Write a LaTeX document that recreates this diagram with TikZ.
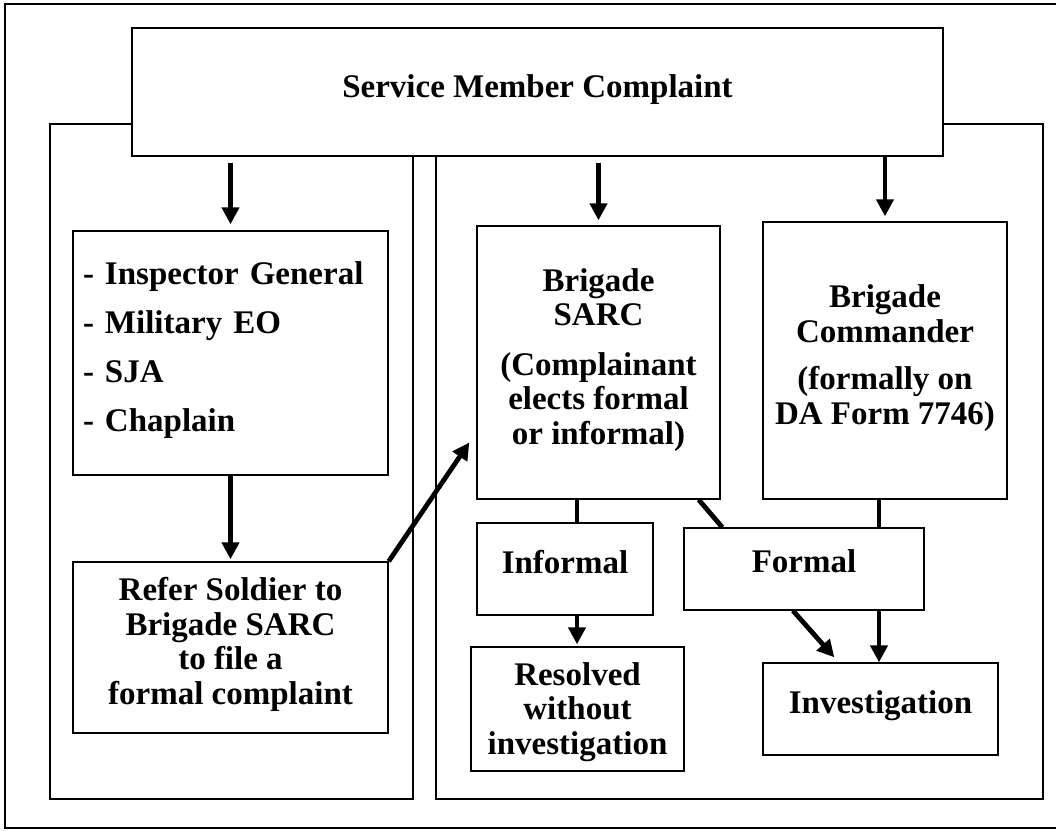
\documentclass[tikz,border=0pt]{standalone}
\usepackage{fontspec}
\setmainfont{Liberation Serif}
\usetikzlibrary{arrows.meta}
% invisible struts that deepen the last line or heighten the first one
\newcommand{\lowstrut}[1]{\rule[-#1]{0pt}{#1}}
\newcommand{\highstrut}[1]{\rule{0pt}{#1}}
\begin{document}
\begin{tikzpicture}[x=1pt,y=-1pt,
  box/.style={draw, line width=1.4pt, fill=white, align=center, inner sep=0pt,
    font=\bfseries\fontsize{33}{34.5}\selectfont},
  panel/.style={draw, line width=2.2pt},
  conn/.style={line width=4.8pt},
  arr/.style={conn, -{Triangle[width=17pt,length=17pt]}}
]
\useasboundingbox (0,0) rectangle (1056,830);
% outer frame
\draw[line width=2pt] (1060,4) -- (5,4) -- (5,828) -- (1060,828);
% the two panels
\draw[panel] (50,124) rectangle (413,799);
\draw[panel] (436,124) rectangle (1043,799);

% boxes
\node[box, minimum width=811pt, minimum height=128pt, text depth=12pt] (svc) at (537.5,92) {Service Member Complaint};
\node[box, align=left, text width=295pt, inner xsep=10pt, minimum height=244pt] (ig) at (230.5,353)
  {- Inspector General\\[14.5pt] - Military EO\\[14.5pt] - SJA\\[14.5pt] - Chaplain\lowstrut{13pt}};
\node[box, minimum width=315pt, minimum height=171pt] (refer) at (230.5,647.5)
  {Refer Soldier to\\ Brigade SARC\\ to file a\\ formal complaint\lowstrut{13pt}};
\node[box, minimum width=243pt, minimum height=273pt] (sarc) at (598.5,362.5)
  {Brigade\\ SARC\\[15pt] (Complainant\\ elects formal\\ or informal)\lowstrut{12pt}};
\node[box, minimum width=244pt, minimum height=277pt] (cmd) at (885,360.5)
  {Brigade\\ Commander\\[13pt] (formally on\\ DA Form 7746)\lowstrut{12pt}};
\node[box, minimum width=176pt, minimum height=92pt, text depth=14pt] (inf) at (565,569) {Informal};
\node[box, minimum width=240pt, minimum height=82pt, text depth=16pt] (frm) at (804,569) {Formal};
\node[box, minimum width=213pt, minimum height=124pt] (res) at (577.5,709)
  {\highstrut{28.5pt}Resolved\\ without\\ investigation};
\node[box, minimum width=235pt, minimum height=92pt, text depth=13pt] (inv) at (880.5,709) {Investigation};

% helper points for the vertical runs
\coordinate (ix) at ([xshift=12pt]inf.north);
\coordinate (cx) at ([xshift=-6pt]cmd.south);

% connectors
\draw[arr, shorten <=6pt, shorten >=6pt] (svc.south -| ig.north) -- (ig.north);
\draw[arr, shorten <=6pt, shorten >=5pt] (svc.south -| sarc.north) -- (sarc.north);
\draw[arr, shorten >=5pt] (svc.south -| cmd.north) -- (cmd.north);
\draw[arr, shorten >=2pt] (ig.south) -- (refer.north);
\draw[arr] (refer.north east) -- ([shift={(-7,80)}]sarc.west);
\draw[conn] (sarc.south -| ix) -- (ix);
\draw[arr, shorten >=2pt] (inf.south -| ix) -- (res.north -| ix);
\draw[conn] ([xshift=-22pt]sarc.south east) -- ([xshift=39pt]frm.north west);
\draw[conn] (cx) -- (frm.north -| cx);
\draw[arr] (frm.south -| cx) -- (inv.north -| cx);
\draw[arr] ([xshift=-11pt]frm.south) -- ([shift={(72,-5)}]inv.north west);
\end{tikzpicture}
\end{document}
